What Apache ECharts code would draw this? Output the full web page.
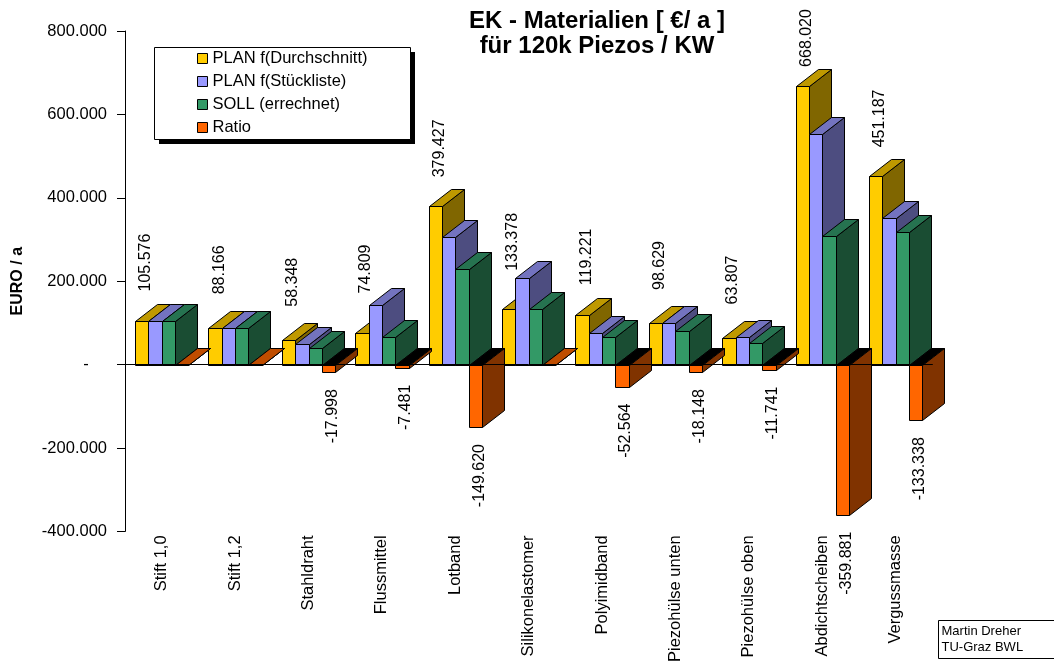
<!DOCTYPE html>
<html>
<head>
<meta charset="utf-8">
<title>EK - Materialien</title>
<script src="https://cdn.jsdelivr.net/npm/echarts@6/dist/echarts.min.js"></script>
<style>
  html, body { margin: 0; padding: 0; background: #fff; }
  #chart { width: 1054px; height: 665px; }
</style>
</head>
<body>
<div id="chart"></div>
<script>
// Material costs per year (EUR) for 120k piezos / KW
const categories = ['Stift 1,0', 'Stift 1,2', 'Stahldraht', 'Flussmittel', 'Lotband',
  'Silikonelastomer', 'Polyimidband', 'Piezohülse unten', 'Piezohülse oben',
  'Abdichtscheiben', 'Vergussmasse'];
const planDurchschnitt = [105576, 88166, 58348, 74809, 379427, 133378, 119221, 98629, 63807, 668020, 451187];
const planStueckliste  = [105576, 88166, 50500, 143000, 307000, 208000, 76000, 100000, 65000, 552000, 352000];
const sollErrechnet    = [105576, 88166, 40350, 67328, 229807, 133378, 66657, 80481, 52066, 308139, 317849];
const ratio            = [0, 0, -17998, -7481, -149620, 0, -52564, -18148, -11741, -359881, -133338];

const seriesNames = ['PLAN f(Durchschnitt)', 'PLAN f(Stückliste)', 'SOLL (errechnet)', 'Ratio'];
const yTickValues = [-400000, -200000, 0, 200000, 400000, 600000, 800000];
const yTickLabels = ['-400.000', '-200.000', '-    ', '200.000', '400.000', '600.000', '800.000'];

const FONT = '"Liberation Sans", Arial, Helvetica, sans-serif';
// 3D extrusion of each column (screen offset of the back face)
const DEPTH_X = 22;
const DEPTH_Y = -17;
const BAR_FRAC = 0.1815;   // width of one column as a share of the category band

// face colours: front, top, side
const shades = [
  { front: '#FFCC00', top: '#BF9900', side: '#806600' },
  { front: '#9999FF', top: '#7373BF', side: '#4D4D80' },
  { front: '#339966', top: '#267350', side: '#1A4D33' },
  { front: '#FF6600', top: '#BF4D00', side: '#803300' }
];

function fmtDE(v) {
  const s = Math.abs(Math.round(v)).toString().replace(/\B(?=(\d{3})+(?!\d))/g, '.');
  return (v < 0 ? '-' : '') + s;
}

function px(v) { return Math.round(v) + 0.5; }

function barRenderer(slot) {
  const c = shades[slot];
  return function (params, api) {
    const i = api.value(0);
    const v = api.value(1);
    const base = api.coord([i, 0]);
    const end = api.coord([i, v]);
    const band = api.size([1, 0])[0];
    const w = band * BAR_FRAC;
    const x1 = px(base[0] - 2 * w + slot * w);
    const x2 = px(base[0] - 2 * w + (slot + 1) * w);
    const y0 = px(base[1]);
    const yv = px(end[1]);
    const dx = DEPTH_X, dy = DEPTH_Y;
    const edge = { stroke: '#000', lineWidth: 1 };
    const poly = (pts, fill) => ({ type: 'polygon', shape: { points: pts }, style: Object.assign({ fill: fill }, edge) });
    const children = [];
    if (v >= 0) {
      children.push(poly([[x2, yv], [x2 + dx, yv + dy], [x2 + dx, y0 + dy], [x2, y0]], c.side));
      children.push(poly([[x1, yv], [x2, yv], [x2 + dx, yv + dy], [x1 + dx, yv + dy]], c.top));
      children.push(poly([[x1, yv], [x2, yv], [x2, y0], [x1, y0]], c.front));
    } else {
      children.push(poly([[x1, y0], [x2, y0], [x2 + dx, y0 + dy], [x1 + dx, y0 + dy]], '#000'));
      children.push(poly([[x2, y0], [x2 + dx, y0 + dy], [x2 + dx, yv + dy], [x2, yv]], c.side));
      children.push(poly([[x1, y0], [x2, y0], [x2, yv], [x1, yv]], c.front));
    }
    return { type: 'group', children: children };
  };
}

function labelRenderer(params, api) {
  const i = api.value(0);
  const plan = api.value(1);
  const yPlan = api.coord([i, plan])[1];
  const yStk = api.coord([i, api.value(2)])[1];
  const r = api.value(3);
  const cx = api.coord([i, 0])[0];
  const w = api.size([1, 0])[0] * BAR_FRAC;
  const font = '16px ' + FONT;
  const children = [];
  let cy = Math.min(yPlan - 58, yStk - 36);
  cy = Math.max(cy, 38);
  children.push({
    type: 'text', x: cx - 1.5 * w + 4, y: cy, rotation: Math.PI / 2,
    style: { text: fmtDE(plan), font: font, fill: '#000', align: 'center', verticalAlign: 'middle' }
  });
  if (r < 0) {
    const yR = api.coord([i, r])[1];
    children.push({
      type: 'text', x: cx + 1.5 * w + 4, y: yR + 17, rotation: Math.PI / 2,
      style: { text: fmtDE(r), font: font, fill: '#000', align: 'right', verticalAlign: 'middle' }
    });
  }
  return { type: 'group', children: children };
}

const valueSets = [planDurchschnitt, planStueckliste, sollErrechnet, ratio];

const series = valueSets.map((vals, k) => ({
  name: seriesNames[k],
  type: 'custom',
  renderItem: barRenderer(k),
  itemStyle: { color: shades[k].front },
  encode: { x: 0, y: 1 },
  data: vals.map((v, i) => [i, v]),
  z: 2 + k
}));

series.push({
  name: 'labels',
  type: 'custom',
  renderItem: labelRenderer,
  encode: { x: 0, y: 1 },
  data: categories.map((c, i) => [i, planDurchschnitt[i], planStueckliste[i], ratio[i]]),
  z: 20,
  silent: true
});

const chart = echarts.init(document.getElementById('chart'), null, { renderer: 'canvas' });
chart.setOption({
  animation: false,
  backgroundColor: '#fff',
  title: {
    text: 'EK - Materialien [ €/ a ]\nfür 120k Piezos / KW',
    left: 597, top: 9, padding: 0, textAlign: 'center',
    textStyle: { fontFamily: FONT, fontSize: 24, fontWeight: 'bold', color: '#000', lineHeight: 25 }
  },
  grid: { left: 125, top: 31, right: 121.6, bottom: 132, containLabel: false },
  legend: {
    data: seriesNames,
    orient: 'vertical',
    left: 197, top: 50,
    padding: 0,
    itemWidth: 10, itemHeight: 10, itemGap: 6,
    icon: 'rect',
    selectedMode: false,
    itemStyle: { borderColor: '#000', borderWidth: 1 },
    textStyle: { fontFamily: FONT, fontSize: 16.5, color: '#000', lineHeight: 17 },
    z: 10
  },
  xAxis: [{
    type: 'category',
    data: categories,
    position: 'bottom',
    axisLine: { show: false, onZero: false },
    axisTick: { show: false },
    axisLabel: { rotate: 90, margin: 4, fontFamily: FONT, fontSize: 16.5, color: '#000', interval: 0 },
    splitLine: { show: false }
  }, {
    type: 'category',
    data: categories,
    position: 'bottom',
    axisLine: { show: true, onZero: true, lineStyle: { color: '#000', width: 1 } },
    axisTick: { show: false },
    axisLabel: { show: false },
    splitLine: { show: false },
    z: 30
  }],
  yAxis: {
    type: 'value',
    min: -400000, max: 800000, interval: 200000,
    name: 'EURO / a',
    nameLocation: 'middle',
    nameRotate: 90,
    nameGap: 99,
    nameTextStyle: { fontFamily: FONT, fontSize: 16, fontWeight: 'bold', color: '#000' },
    axisLine: { show: true, onZero: false, lineStyle: { color: '#000', width: 1 } },
    axisTick: { show: true, length: 8, lineStyle: { color: '#000' } },
    axisLabel: {
      margin: 18, fontFamily: FONT, fontSize: 16.5, color: '#000',
      formatter: v => { const k = yTickValues.indexOf(v); return k >= 0 ? yTickLabels[k] : ''; }
    },
    splitLine: { show: false }
  },
  graphic: [
    // legend frame with hard drop shadow
    { type: 'rect', shape: { x: 159, y: 52, width: 256, height: 92 }, style: { fill: '#000' }, z: 1 },
    { type: 'rect', shape: { x: 154.5, y: 47.5, width: 256, height: 92 }, style: { fill: '#fff', stroke: '#000', lineWidth: 1 }, z: 2 },
    // author box
    { type: 'rect', shape: { x: 938.5, y: 620.5, width: 120, height: 38 }, style: { fill: '#fff', stroke: '#000', lineWidth: 1 }, z: 2 },
    { type: 'text', x: 941.5, y: 631, style: { text: 'Martin Dreher', font: '13px ' + FONT, fill: '#000', verticalAlign: 'middle' }, z: 3 },
    { type: 'text', x: 941.5, y: 647.5, style: { text: 'TU-Graz BWL', font: '13px ' + FONT, fill: '#000', verticalAlign: 'middle' }, z: 3 }
  ],
  series: series
});
</script>
</body>
</html>
